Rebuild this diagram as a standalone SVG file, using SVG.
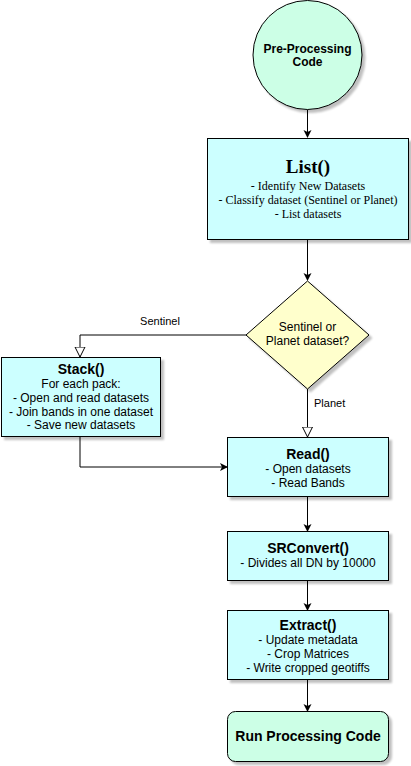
<svg xmlns="http://www.w3.org/2000/svg" width="411" height="766" viewBox="0 0 411 766">
<defs>
<filter id="sh" x="-10%" y="-10%" width="130%" height="130%"><feGaussianBlur in="SourceAlpha" stdDeviation="1"/><feOffset dx="3" dy="3" result="b"/><feComponentTransfer><feFuncA type="linear" slope="0.25"/></feComponentTransfer><feMerge><feMergeNode/><feMergeNode in="SourceGraphic"/></feMerge></filter>
<marker id="fa" markerWidth="10" markerHeight="10" refX="7" refY="5" orient="auto" markerUnits="userSpaceOnUse"><path d="M0,1 L8,5 L0,9 L2,5 Z" fill="#000"/></marker>
<marker id="oa" markerWidth="12" markerHeight="12" refX="10" refY="6" orient="auto" markerUnits="userSpaceOnUse"><path d="M0,1 L10,6 L0,11 Z" fill="#fff" stroke="#000" stroke-width="1"/></marker>
</defs>
<style>
.n{stroke:#000;stroke-width:1;filter:url(#sh)}
.b{fill:#CCFFFF}
.t{font-family:"Liberation Sans",Arial,sans-serif;font-size:12px;text-anchor:middle;fill:#000}
.h{font-weight:bold;font-size:14px}
.s{font-family:"Liberation Serif","Times New Roman",serif}
.e{fill:none;stroke:#000;stroke-width:1}
.l{font-family:"Liberation Sans",Arial,sans-serif;font-size:11px;fill:#000}
</style>
<g id="connectors">
<path class="e" d="M307.5,109.5 V137" marker-end="url(#fa)"/>
<path class="e" d="M307.5,240 V280" marker-end="url(#fa)"/>
<path class="e" d="M246,335 H80 V357" marker-end="url(#oa)"/>
<path class="e" d="M307.5,389 V437" marker-end="url(#oa)"/>
<path class="e" d="M80,437 V467 H227" marker-end="url(#fa)"/>
<path class="e" d="M307.5,497 V531" marker-end="url(#fa)"/>
<path class="e" d="M307.5,581 V610" marker-end="url(#fa)"/>
<path class="e" d="M307.5,680 V711" marker-end="url(#fa)"/>
<text class="l" x="160" y="325" text-anchor="middle">Sentinel</text>
<text class="l" x="314" y="407">Planet</text>
</g>
<g id="start">
<circle class="n" cx="307.5" cy="55" r="54.5" fill="#CCFFE6"/>
<text class="t" style="font-weight:bold" x="307.5" y="53">Pre-Processing</text>
<text class="t" style="font-weight:bold" x="307.5" y="66">Code</text>
</g>
<g id="list">
<rect class="n b" x="207.5" y="138.5" width="201" height="101"/>
<text class="t s" style="font-weight:bold;font-size:19px" x="308" y="173">List()</text>
<text class="t s" x="308" y="190">- Identify New Datasets</text>
<text class="t s" x="308" y="204">- Classify dataset (Sentinel or Planet)</text>
<text class="t s" x="308" y="218">- List datasets</text>
</g>
<g id="decision">
<path class="n" d="M307.5,281 L369,335 L307.5,389 L246,335 Z" fill="#FFFFCC"/>
<text class="t" x="307.5" y="331">Sentinel or</text>
<text class="t" x="307.5" y="345">Planet dataset?</text>
</g>
<g id="stack">
<rect class="n b" x="1.5" y="357.5" width="159" height="79"/>
<text class="t h" x="81" y="374">Stack()</text>
<text class="t" x="81" y="388">For each pack:</text>
<text class="t" x="81" y="402">- Open and read datasets</text>
<text class="t" x="81" y="415.5">- Join bands in one dataset</text>
<text class="t" x="81" y="429">- Save new datasets</text>
</g>
<g id="read">
<rect class="n b" x="227.5" y="437.5" width="161" height="59"/>
<text class="t h" x="308" y="459">Read()</text>
<text class="t" x="308" y="473">- Open datasets</text>
<text class="t" x="308" y="487">- Read Bands</text>
</g>
<g id="srconvert">
<rect class="n b" x="227.5" y="531.5" width="161" height="49"/>
<text class="t h" x="308" y="553">SRConvert()</text>
<text class="t" x="308" y="567">- Divides all DN by 10000</text>
</g>
<g id="extract">
<rect class="n b" x="227.5" y="610.5" width="161" height="69"/>
<text class="t h" x="308" y="630">Extract()</text>
<text class="t" x="308" y="644">- Update metadata</text>
<text class="t" x="308" y="658">- Crop Matrices</text>
<text class="t" x="308" y="672">- Write cropped geotiffs</text>
</g>
<g id="end">
<rect class="n" x="227.5" y="711.5" width="161" height="50" rx="8" fill="#CCFFE6"/>
<text class="t h" x="308" y="741">Run Processing Code</text>
</g>
</svg>
